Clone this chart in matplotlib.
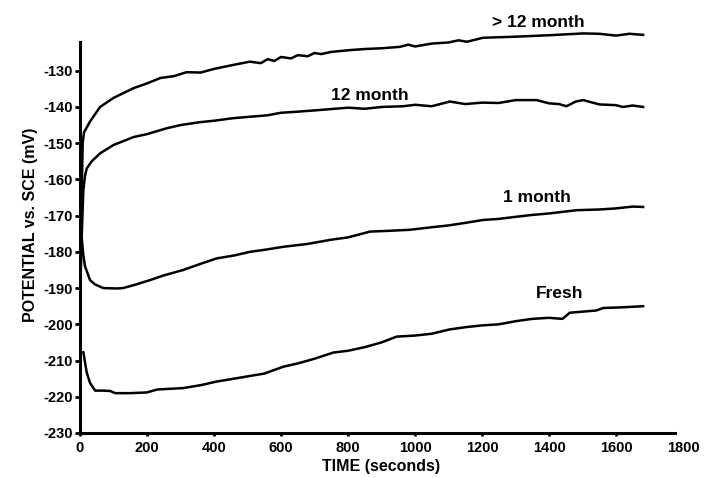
import matplotlib
matplotlib.use("Agg")
import matplotlib.pyplot as plt

plt.rcParams['font.family'] = ['Liberation Sans', 'DejaVu Sans']
plt.rcParams['font.weight'] = 'bold'
plt.rcParams['axes.unicode_minus'] = False

# ---- data ----
t_gt12 = [2, 5, 8, 12, 30, 60, 100, 160, 200, 240, 280, 318, 360, 400, 457, 507, 540, 560, 580,
          600, 630, 650, 680, 700, 720, 750, 806, 850, 900, 955, 980, 1000, 1050, 1100, 1130,
          1155, 1203, 1300, 1400, 1502, 1550, 1600, 1640, 1681]
v_gt12 = [-183, -165, -150, -147, -144, -140, -137.5, -134.8, -133.5, -132, -131.5, -130.4, -130.5,
          -129.5, -128.4, -127.5, -127.9, -126.8, -127.3, -126.2, -126.6, -125.7, -126.0, -125.1,
          -125.4, -124.8, -124.3, -124.0, -123.8, -123.4, -122.8, -123.3, -122.5, -122.2, -121.6,
          -122.0, -120.9, -120.6, -120.2, -119.7, -119.8, -120.3, -119.8, -120.1]

t_12 = [2, 5, 10, 15, 20, 35, 60, 100, 160, 200, 258, 300, 358, 400, 457, 507, 560, 600, 650,
        707, 760, 800, 850, 900, 965, 1000, 1050, 1104, 1150, 1200, 1250, 1300, 1363, 1400,
        1430, 1452, 1480, 1502, 1550, 1600, 1620, 1650, 1681]
v_12 = [-187, -176, -163, -159, -157, -155, -152.8, -150.5, -148.3, -147.5, -145.9, -145, -144.2,
        -143.8, -143.1, -142.7, -142.3, -141.6, -141.3, -140.9, -140.5, -140.2, -140.5, -140,
        -139.8, -139.4, -139.8, -138.5, -139.2, -138.8, -138.9, -138.1, -138.1, -139, -139.2,
        -139.8, -138.5, -138.1, -139.3, -139.5, -140, -139.6, -140]

t_1 = [2, 5, 10, 15, 30, 45, 70, 110, 128, 160, 209, 250, 308, 360, 408, 460, 507, 560, 607,
       680, 746, 800, 866, 920, 985, 1050, 1100, 1150, 1203, 1250, 1303, 1350, 1400, 1482,
       1550, 1600, 1650, 1681]
v_1 = [-172, -176, -181, -184, -187.8, -189, -190, -190.1, -190, -189.2, -187.8, -186.5, -185,
       -183.3, -181.8, -181, -180, -179.3, -178.6, -177.8, -176.7, -176, -174.4, -174.2, -173.9,
       -173.2, -172.7, -172, -171.2, -170.9, -170.3, -169.8, -169.4, -168.5, -168.3, -168,
       -167.5, -167.6]

t_fresh = [10, 20, 30, 45, 70, 90, 105, 150, 200, 230, 308, 360, 408, 460, 498, 550, 607, 650,
           700, 756, 800, 850, 900, 945, 1000, 1050, 1104, 1150, 1200, 1250, 1303, 1350, 1400,
           1440, 1462, 1500, 1540, 1562, 1620, 1681]
v_fresh = [-207.7, -213.3, -216.2, -218.3, -218.3, -218.4, -219, -219, -218.8, -218, -217.6,
           -216.8, -215.8, -215, -214.4, -213.6, -211.7, -210.8, -209.5, -207.8, -207.3, -206.3,
           -205.0, -203.4, -203.1, -202.6, -201.4, -200.8, -200.3, -200.0, -199.1, -198.5,
           -198.2, -198.5, -196.8, -196.5, -196.2, -195.5, -195.3, -195.0]

labels = ["> 12 month", "12 month", "1 month", "Fresh"]
label_pos = [(1367, -116.8), (866, -136.7), (1364, -164.9), (1433, -191.4)]

xticks = [0, 200, 400, 600, 800, 1000, 1200, 1400, 1600, 1800]
yticks = [-230, -220, -210, -200, -190, -180, -170, -160, -150, -140, -130]

# ---- figure ----
fig = plt.figure(figsize=(7.14, 4.78), dpi=100)
ax = fig.add_axes([80/714, 45/478, 603/714, 416.6/478])

for t, v in [(t_gt12, v_gt12), (t_12, v_12), (t_1, v_1), (t_fresh, v_fresh)]:
    ax.plot(t, v, color='black', lw=1.8, solid_joinstyle='round', clip_on=False)

for txt, (x, y) in zip(labels, label_pos):
    ax.text(x, y, txt, ha='center', va='center', fontsize=12.5, fontweight='bold')

ax.set_xlim(0, 1800)
ax.set_ylim(-230, -115)
ax.set_xticks(xticks)
ax.set_yticks(yticks)
ax.tick_params(axis='x', labelsize=10.5, width=2, length=2.5, direction='out', pad=3)
ax.tick_params(axis='y', labelsize=10.5, width=2, length=3.5, direction='out', pad=1.5)
for lbl in ax.get_xticklabels() + ax.get_yticklabels():
    lbl.set_fontweight('bold')
# no tick mark at 1800 (axis line stops short of it)
ax.xaxis.get_major_ticks()[-1].tick1line.set_visible(False)

for s in ['top', 'right']:
    ax.spines[s].set_visible(False)
ax.spines['left'].set_linewidth(2.2)
ax.spines['bottom'].set_linewidth(2.2)
ax.spines['left'].set_bounds(-230, -122)
ax.spines['bottom'].set_bounds(0, 1775)

ax.set_xlabel("TIME (seconds)", fontsize=11.5, fontweight='bold', labelpad=3)
ax.set_ylabel("POTENTIAL vs. SCE (mV)", fontsize=11.5, fontweight='bold', labelpad=4)

fig.savefig("out.png", dpi=100)
